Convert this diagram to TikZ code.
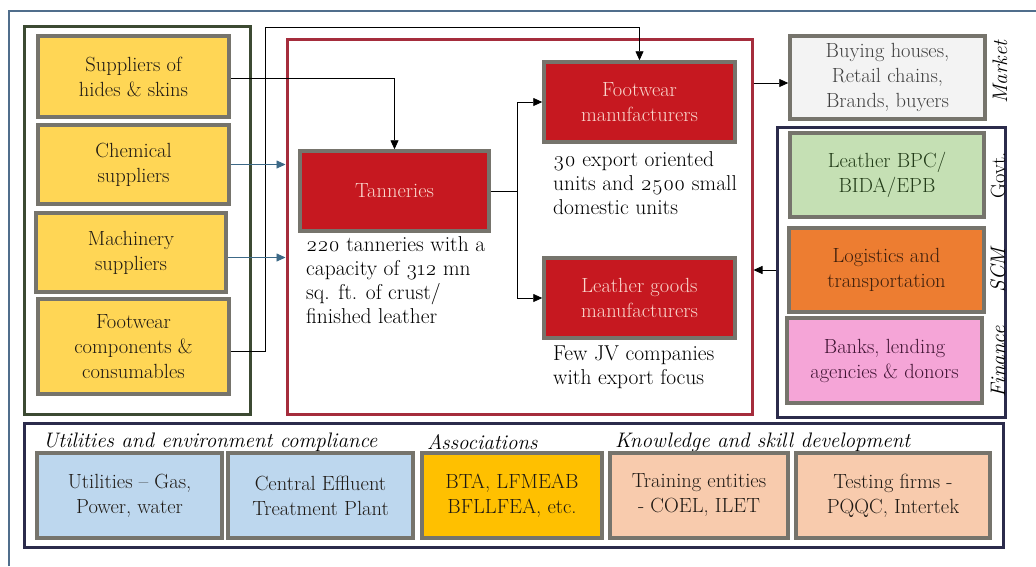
\documentclass[tikz,border=0pt]{standalone}
\usepackage{fontspec}
\setmainfont{Latin Modern Roman}[Numbers=OldStyle]
\usetikzlibrary{arrows.meta}

\definecolor{framecol}{RGB}{80,110,140}
\definecolor{boxedge}{RGB}{118,116,108}
\definecolor{leftgrp}{RGB}{60,74,50}
\definecolor{redgrp}{RGB}{165,45,60}
\definecolor{navygrp}{RGB}{43,43,75}
\definecolor{yellowfill}{RGB}{255,214,85}
\definecolor{redfill}{RGB}{198,24,32}
\definecolor{redtext}{RGB}{250,215,205}
\definecolor{greyfill}{RGB}{243,243,243}
\definecolor{greenfill}{RGB}{197,224,180}
\definecolor{greentext}{RGB}{35,60,25}
\definecolor{orangefill}{RGB}{237,125,49}
\definecolor{browntext}{RGB}{60,30,12}
\definecolor{pinkfill}{RGB}{245,165,215}
\definecolor{purpletext}{RGB}{65,20,52}
\definecolor{bluefill}{RGB}{189,215,238}
\definecolor{goldfill}{RGB}{255,192,0}
\definecolor{peachfill}{RGB}{248,203,173}
\definecolor{tealarrow}{RGB}{60,105,135}
\definecolor{darktext}{RGB}{30,25,20}

\newcommand\chainboxfont{\fontsize{20.5}{25}\selectfont}
\newcommand\chainnotefont{\fontsize{21.5}{24}\selectfont}
\newcommand\chainheadfont{\fontsize{21}{24}\selectfont\itshape}

\begin{document}
\begin{tikzpicture}[x=1pt,y=-1pt,
  cbox/.style={draw=boxedge, line width=3.5pt, align=center, inner sep=2pt,
    font=\chainboxfont, text=darktext},
  ybox/.style={cbox, fill=yellowfill},
  rbox/.style={cbox, fill=redfill, text=redtext},
  grp/.style={line width=3pt, fill=white, inner sep=0pt},
  note/.style={anchor=north west, align=left, font=\chainnotefont, text=black, inner sep=0pt},
  head/.style={anchor=west, font=\chainheadfont, text=black, inner sep=0pt},
  side/.style={rotate=90, font=\chainheadfont, text=black, inner sep=0pt},
  link/.style={line width=0.8pt, black, -{Triangle[length=9pt,width=8pt]}},
  plain/.style={line width=0.8pt, black},
  tlink/.style={line width=0.8pt, tealarrow, -{Triangle[length=9pt,width=8pt]}}]

\useasboundingbox (0,0) rectangle (1036,566);
\fill[white] (0,0) rectangle (1036,566);

% page frame
\draw[framecol, line width=1.2pt] (9,566) -- (9,11) -- (1036,11);

% group frames
\node[grp, draw=leftgrp, minimum width=226, minimum height=388] (lgrp) at (137,220) {};
\node[grp, draw=redgrp, minimum width=465, minimum height=375] (rgrp) at (519.5,226.5) {};
\node[grp, draw=navygrp, minimum width=228, minimum height=290] (sgrp) at (891,272) {};
\node[grp, draw=navygrp, minimum width=979, minimum height=124] (bgrp) at (513.5,485) {};

% input suppliers
\node[ybox, minimum width=191, minimum height=81] (hides) at (133.5,76.5) {Suppliers of\\hides \& skins};
\node[ybox, minimum width=191, minimum height=79] (chem) at (133.5,164.5) {Chemical\\suppliers};
\node[ybox, minimum width=190, minimum height=79] (mach) at (131,252.5) {Machinery\\suppliers};
\node[ybox, minimum width=191, minimum height=95] (fwcomp) at (133.5,346.5) {Footwear\\components \&\\consumables};

% core manufacturing
\node[rbox, minimum width=189, minimum height=80] (tan) at (394.5,191) {Tanneries};
\node[rbox, minimum width=191, minimum height=80] (fwman) at (639.5,102) {Footwear\\manufacturers};
\node[rbox, minimum width=191, minimum height=80] (lgman) at (639.5,298) {Leather goods\\manufacturers};

\node[note] (tannote) at (306,236) {220 tanneries with a\\capacity of 312 mn\\sq. ft. of crust/\\finished leather};
\node[note] (fwnote) at (553,151) {30 export oriented\\units and 2500 small\\domestic units};
\node[note] (lgnote) at (553,346) {Few JV companies\\with export focus};

% market and support
\node[cbox, fill=greyfill, text=black!75, minimum width=195, minimum height=83] (buy) at (887.5,77.5) {Buying houses,\\Retail chains,\\Brands, buyers};
\node[cbox, fill=greenfill, text=greentext, minimum width=194, minimum height=84] (bpc) at (887,175) {Leather BPC/\\BIDA/EPB};
\node[cbox, fill=orangefill, text=browntext, minimum width=195, minimum height=84] (logi) at (886.5,270) {Logistics and\\transportation};
\node[cbox, fill=pinkfill, text=purpletext, minimum width=195, minimum height=85] (bank) at (884.5,360.5) {Banks, lending\\agencies \& donors};

\node[side] (lmarket) at (1000,72) {Market};
\node[side, font=\chainboxfont] (lgovt) at (998,175) {Govt.};
\node[side] (lscm) at (998,270) {SCM};
\node[side] (lfin) at (998,362) {Finance};

% supporting ecosystem
\node[head] (hutil) at (43,442) {Utilities and environment compliance};
\node[head] (hassoc) at (427,442) {Associations};
\node[head] (hknow) at (615,442) {Knowledge and skill development};

\node[cbox, fill=bluefill, minimum width=185, minimum height=85] (util) at (129.5,495.5) {Utilities -- Gas,\\Power, water};
\node[cbox, fill=bluefill, minimum width=185, minimum height=85] (cetp) at (320.5,495.5) {Central Effluent\\Treatment Plant};
\node[cbox, fill=goldfill, minimum width=180, minimum height=85] (bta) at (512,495.5) {BTA, LFMEAB\\BFLLFEA, etc.};
\node[cbox, fill=peachfill, minimum width=178, minimum height=85] (train) at (699,495.5) {Training entities\\- COEL, ILET};
\node[cbox, fill=peachfill, minimum width=194, minimum height=85] (test) at (893,495.5) {Testing firms -\\PQQC, Intertek};

% connectors
\coordinate (fwtop) at (265,27);
\coordinate (split) at (517,191);
\draw[link] ([yshift=-1.5pt]hides.east) -| (tan.north);
\draw[link] ([yshift=-4.5pt]fwcomp.east) -| (fwtop) -| (fwman.north);
\draw[tlink] (chem.east) -- (chem.east -| rgrp.west);
\draw[tlink] ([yshift=-5pt]mach.east) -- ([yshift=-5pt]mach.east -| rgrp.west);
\draw[plain] (tan.east) -- (split);
\draw[link] (split) |- (fwman.west);
\draw[link] (split) |- (lgman.west);
\draw[link] ([yshift=-5.5pt]buy.west -| rgrp.east) -- ([yshift=-5.5pt]buy.west);
\draw[link] ([yshift=2pt]sgrp.west) -- ([yshift=2pt]sgrp.west -| rgrp.east);

\end{tikzpicture}
\end{document}
